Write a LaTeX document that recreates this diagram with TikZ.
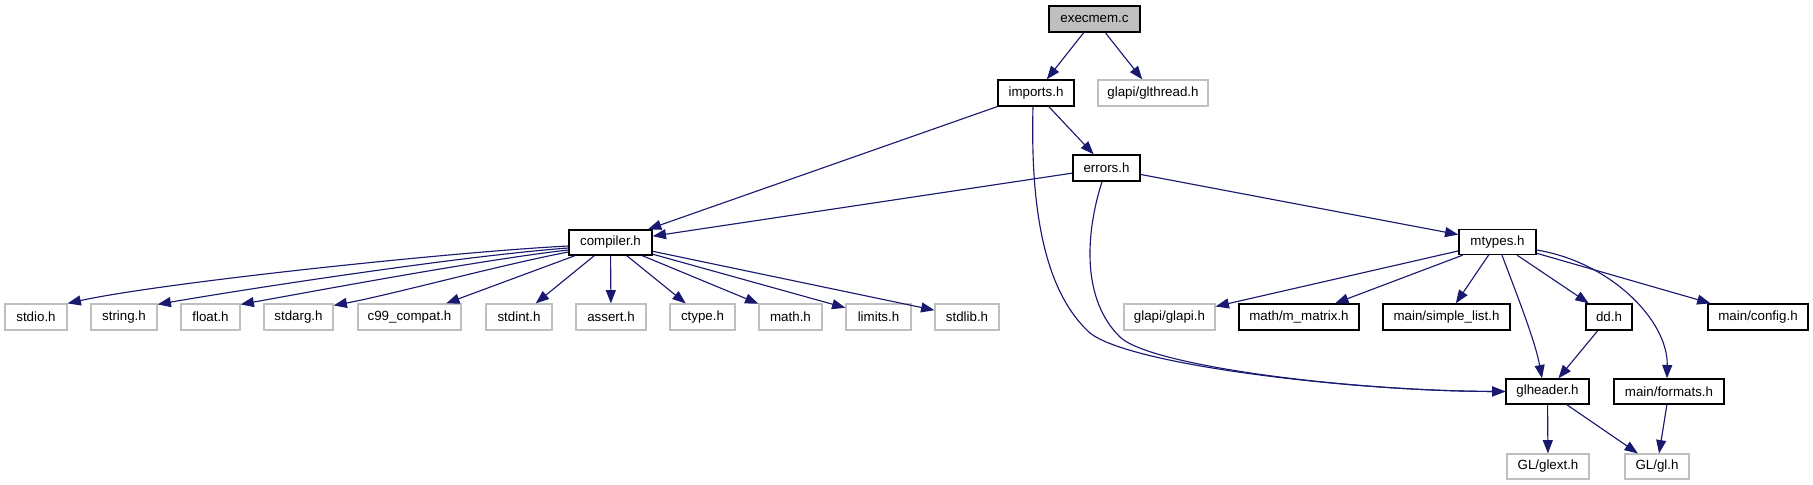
\documentclass[tikz,border=0pt]{standalone}
\usepackage{fontspec}
\setmainfont{Liberation Sans}
\usetikzlibrary{arrows.meta,calc}
\definecolor{edgeblue}{RGB}{25,25,112}
\definecolor{extgray}{RGB}{191,191,191}
\definecolor{rootgray}{RGB}{191,191,191}
\begin{document}
\begin{tikzpicture}[x=0.75pt,y=-0.75pt,
  box/.style={draw=black, line width=1pt, fill=white, inner sep=0pt, minimum height=19.5pt, font=\fontsize{10}{12}\selectfont, text=black},
  ext/.style={box, draw=extgray, line width=0.9pt},
  root/.style={box, fill=rootgray},
  edge/.style={draw=edgeblue, line width=0.85pt, -{Triangle[length=10pt,width=7.5pt]}}]
\useasboundingbox (0,0) rectangle (1813,485);

% nodes
\node[root, minimum width=68.25pt] (execmem) at (1094.5,19) {execmem.c};
\node[box, minimum width=57pt] (imports) at (1036,93) {imports.h};
\node[ext, minimum width=82.5pt] (glthread) at (1153,93) {glapi/glthread.h};
\node[box, minimum width=50.25pt] (errors) at (1106.5,168) {errors.h};
\node[box, minimum width=62.25pt, minimum height=18.75pt] (compiler) at (610.5,242.5) {compiler.h};
\node[box, minimum width=57.75pt, minimum height=18.75pt] (mtypes) at (1497.5,242) {mtypes.h};

\node[ext, minimum width=46.5pt] (stdio) at (36,317) {stdio.h};
\node[ext, minimum width=49.5pt] (string) at (124,317) {string.h};
\node[ext, minimum width=44.25pt] (float) at (210.5,317) {float.h};
\node[ext, minimum width=51.75pt] (stdarg) at (298.5,317) {stdarg.h};
\node[ext, minimum width=77.25pt] (c99) at (409.5,317) {c99\_compat.h};
\node[ext, minimum width=49.5pt] (stdint) at (519,317) {stdint.h};
\node[ext, minimum width=52.5pt] (assert) at (611,317) {assert.h};
\node[ext, minimum width=48.75pt] (ctype) at (702.5,317) {ctype.h};
\node[ext, minimum width=47.25pt] (math) at (790.5,317) {math.h};
\node[ext, minimum width=48.75pt] (limits) at (878.5,317) {limits.h};
\node[ext, minimum width=48pt] (stdlib) at (967,317) {stdlib.h};

\node[ext, minimum width=68.25pt] (glapi) at (1169.5,317) {glapi/glapi.h};
\node[box, minimum width=90pt] (mmatrix) at (1299,317) {math/m\_matrix.h};
\node[box, minimum width=95.25pt] (simplelist) at (1446.5,317) {main/simple\_list.h};
\node[box, minimum width=34.5pt] (dd) at (1609,317) {dd.h};
\node[box, minimum width=75pt] (config) at (1758,317) {main/config.h};

\node[box, minimum width=62.25pt, minimum height=18.75pt] (glheader) at (1547.5,391.5) {glheader.h};
\node[box, minimum width=82.5pt, minimum height=18.75pt] (formats) at (1669,391.5) {main/formats.h};
\node[ext, minimum width=61.5pt, minimum height=18.75pt] (glext) at (1548,466.5) {GL/glext.h};
\node[ext, minimum width=48pt, minimum height=18.75pt] (gl) at (1657,466.5) {GL/gl.h};

% edges
\draw[edge] (execmem) -- (imports);
\draw[edge] (execmem) -- (glthread);
\draw[edge] (imports) -- (compiler);
\draw[edge] (imports) -- (errors);
\draw[edge] ($(imports.south)+(-3,0)$) .. controls (1030,220) and (1048,295) .. (1090,333)
   .. controls (1130,365) and (1350,391) .. (glheader.west);
\draw[edge] (errors) -- (compiler);
\draw[edge] (errors) -- (mtypes);
\draw[edge] ($(errors.south)+(-4.5,0)$) .. controls (1085,235) and (1082,300) .. (1120,337)
   .. controls (1150,366) and (1350,391) .. (glheader.west);

\draw[edge] ($(compiler.west)+(0,3.5)$) .. controls (450,252) and (160,283) .. (stdio.north east);
\draw[edge] ($(compiler.west)+(0,5.5)$) .. controls (460,256) and (240,290) .. ($(string.north east)+(0,1)$);
\draw[edge] ($(compiler.west)+(0,7.5)$) .. controls (480,260) and (310,292) .. ($(float.north east)+(0,1)$);
\draw[edge] ($(compiler.west)+(0,9.5)$) .. controls (500,265) and (390,295) .. ($(stdarg.north east)+(0,2)$);
\draw[edge] (compiler) -- (c99);
\draw[edge] (compiler) -- (stdint);
\draw[edge] (compiler) -- (assert);
\draw[edge] (compiler) -- (ctype);
\draw[edge] (compiler) -- (math);
\draw[edge] (compiler) -- (limits);
\draw[edge] (compiler) -- (stdlib);

\draw[edge] (mtypes) -- (glapi);
\draw[edge] (mtypes) -- (mmatrix);
\draw[edge] (mtypes) -- (simplelist);
\draw[edge] ($(mtypes.south)+(4.5,0)$) .. controls (1515,290) and (1535,340) .. ($(glheader.north)+(-5.5,0)$);
\draw[edge] (mtypes) -- (dd);
\draw[edge] (mtypes) -- (config);
\draw[edge] ($(mtypes.east)+(0,8)$) .. controls (1610,262) and (1668,320) .. ($(formats.north)+(-2,0)$);
\draw[edge] (dd) -- (glheader);
\draw[edge] (glheader) -- (glext);
\draw[edge] (glheader) -- (gl);
\draw[edge] (formats) -- (gl);
\end{tikzpicture}
\end{document}
